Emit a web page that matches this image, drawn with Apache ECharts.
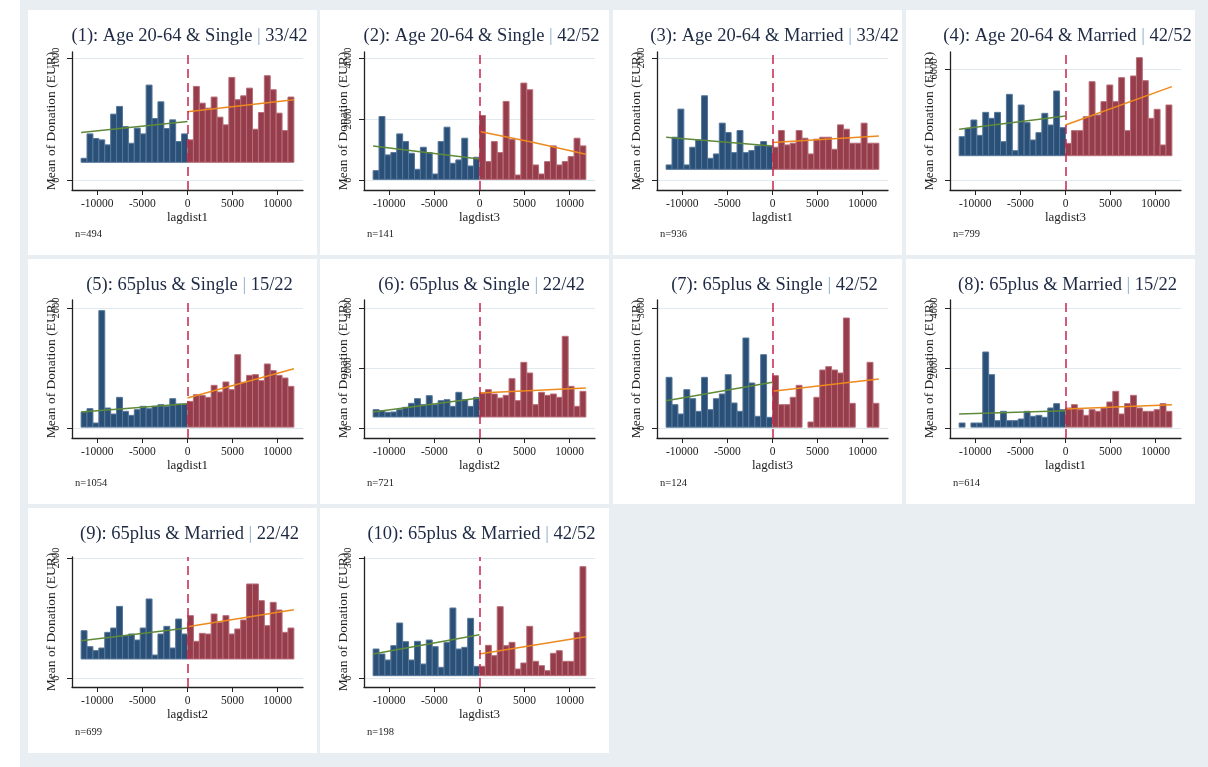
<!DOCTYPE html>
<html><head><meta charset="utf-8">
<script src="https://cdn.jsdelivr.net/npm/echarts@6/dist/echarts.min.js"></script>
<style>
html,body{margin:0;padding:0;background:#fff;}
#c{width:1208px;height:767px;}
</style></head><body><div id="c"></div>
<script>
// ---------- DATA ----------
const panelTitles = [
  ['(1): Age 20-64 & Single', '33/42'],
  ['(2): Age 20-64 & Single', '42/52'],
  ['(3): Age 20-64 & Married', '33/42'],
  ['(4): Age 20-64 & Married', '42/52'],
  ['(5): 65plus & Single', '15/22'],
  ['(6): 65plus & Single', '22/42'],
  ['(7): 65plus & Single', '42/52'],
  ['(8): 65plus & Married', '15/22'],
  ['(9): 65plus & Married', '22/42'],
  ['(10): 65plus & Married', '42/52']
];
const xNames = ['lagdist1','lagdist3','lagdist1','lagdist3','lagdist1','lagdist2','lagdist3','lagdist1','lagdist2','lagdist3'];
const nLabels = ['n=494','n=141','n=936','n=799','n=1054','n=721','n=124','n=614','n=699','n=198'];
const yTicks = [[0,1000],[0,2000,4000],[0,2000],[0,6000],[0,2000],[0,2000,4000],[0,3000],[0,2000,4000],[0,2000],[0,3000]];
const xTicks = [-10000,-5000,0,5000,10000];
const binWidth = 655;
const barBase = [145, 20, 175, 1314, 15, 367, 20, 30, 317, 58];

const left1  = [178,378,340,329,288,540,603,438,301,425,378,778,504,641,422,493,315,378];
const right1 = [329,767,630,589,680,515,452,841,658,690,753,416,553,855,740,548,405,680];
const left2  = [307,2082,822,899,1512,1260,877,351,1074,899,197,1260,1732,548,658,1370,460,745];
const right2 = [2115,603,1260,899,2576,1337,164,3178,2959,493,197,603,1118,493,603,767,1370,1118];
const left3  = [247,701,1162,247,537,658,1381,356,427,932,778,449,811,449,482,559,630,559];
const right3 = [537,811,575,603,811,685,427,669,701,701,504,904,833,603,603,932,603,603];
const left4  = [2342,2793,3243,2414,3657,3333,3657,2072,4630,1586,4054,3099,2162,2559,3604,2973,4810,2829];
const right4 = [1982,2667,2667,3423,5315,3514,4234,5135,4234,5532,2667,5622,6613,5369,3333,3820,1892,4054];
const left5  = [267,322,83,1956,333,233,511,278,211,306,361,322,361,389,361,489,400,400];
const right5 = [444,556,544,511,711,600,767,639,1222,761,878,889,789,1067,956,878,833,694];
const left6  = [611,578,522,533,611,689,822,978,778,1078,778,911,944,722,1189,944,722,1022];
const right6 = [1167,1278,1133,1000,1089,1644,911,2189,1833,778,1189,1089,1133,1022,3056,1389,722,1222];
const left7  = [1267,583,350,958,733,417,1267,458,733,850,1333,625,417,2250,1125,292,1833,267];
const right7 = [1308,583,583,767,1067,null,150,767,1450,1533,1450,1375,2750,617,null,null,1642,617];
const left8  = [167,null,167,167,2533,1778,244,556,244,244,300,556,389,422,356,667,811,611];
const right8 = [667,778,611,422,611,556,667,867,1222,467,811,1089,667,556,556,611,811,556];
const left9  = [789,522,456,500,761,833,1194,706,733,633,833,1317,383,733,861,500,983,733];
const right9 = [1039,611,744,733,1067,928,1039,733,817,967,1567,1567,1289,872,1261,1133,761,833];
const left10 = [725,600,450,808,1375,908,450,917,350,950,783,267,892,1750,725,767,1492,292];
const right10= [292,817,558,1783,808,892,225,375,1292,417,308,183,617,683,417,417,1142,2783];

const fitL1 = [[-11790,389],[0,480]],  fitR1 = [[0,559],[11790,658]];
const fitL2 = [[-11790,1118],[-5900,899],[0,690]], fitR2 = [[0,1589],[5900,1238],[11790,844]];
const fitL3 = [[-11790,701],[0,559]],  fitR3 = [[0,614],[11790,723]];
const fitL4 = [[-11790,2739],[0,3459]], fitR4 = [[0,2973],[11790,5045]];
const fitL5 = [[-11790,267],[0,406]],  fitR5 = [[0,500],[11790,989]];
const fitL6 = [[-11790,533],[0,1000]], fitR6 = [[0,1167],[11790,1333]];
const fitL7 = [[-11790,683],[0,1142]], fitR7 = [[0,917],[11790,1225]];
const fitL8 = [[-11790,467],[0,578]],  fitR8 = [[0,633],[11790,778]];
const fitL9 = [[-11790,622],[0,833]],  fitR9 = [[0,856],[11790,1139]];
const fitL10= [[-11790,600],[0,1083]], fitR10= [[0,600],[11790,1033]];

const lefts  = [left1,left2,left3,left4,left5,left6,left7,left8,left9,left10];
const rights = [right1,right2,right3,right4,right5,right6,right7,right8,right9,right10];
const fitsL  = [fitL1,fitL2,fitL3,fitL4,fitL5,fitL6,fitL7,fitL8,fitL9,fitL10];
const fitsR  = [fitR1,fitR2,fitR3,fitR4,fitR5,fitR6,fitR7,fitR8,fitR9,fitR10];

// ---------- LAYOUT / STYLE ----------
const colLeft = [28,320,613,906], rowTop = [10,259,508];
const PW = 289, PH = 245;
const rows = [
  {top:52, bottom:190, zero:180, tick:58},
  {top:300, bottom:438, zero:428, tick:308},
  {top:557, bottom:687, zero:678, tick:558}
];
const SERIF = '"Liberation Serif","DejaVu Serif",serif';
const BLUE = '#2b5077', BLUE_E = '#56779a';
const RED = '#953d4a', RED_E = '#b86d79';
const GREEN = '#5f8a3a', ORANGE = '#ec8a1e', DASH = '#c8254d';
const plain = v => String(v);

const chart = echarts.init(document.getElementById('c'));
const grids=[], xAxes=[], yAxes=[], series=[], titles=[], graphics=[];
graphics.push({type:'rect', z:-100, shape:{x:20,y:0,width:1188,height:767}, style:{fill:'#e8eef1'}});

function binData(vals, side){
  const out=[];
  vals.forEach((v,i)=>{
    if(v==null) return;
    const x0 = side<0 ? -(vals.length - i)*binWidth : i*binWidth;
    out.push([x0, x0+binWidth, v]);
  });
  return out;
}

for(let i=0;i<10;i++){
  const r=Math.floor(i/4), c=i%4;
  const px=colLeft[c], py=rowTop[r];
  graphics.push({type:'rect', z:-90, shape:{x:px,y:py,width:PW,height:PH}, style:{fill:'#ffffff'}});
  const g=rows[r];
  const tickY = (i===3)?69:g.tick;
  const T = yTicks[i][yTicks[i].length-1];
  const ppu = (g.zero - tickY)/T;
  const yMin = -(g.bottom-g.zero)/ppu, yMax = (g.zero-g.top)/ppu;
  const gl = px+44, gw = 231;
  grids.push({left:gl, top:g.top, width:gw, height:g.bottom-g.top});
  xAxes.push({
    type:'value', gridIndex:i, min:-12800, max:12800,
    axisLine:{show:true, onZero:false, lineStyle:{color:'#222', width:1.3}},
    axisTick:{show:true, length:5, customValues:xTicks, lineStyle:{color:'#222'}},
    axisLabel:{customValues:xTicks, formatter:plain, fontFamily:SERIF, fontSize:11.5, color:'#222', margin:8},
    splitLine:{show:false},
    name:xNames[i], nameLocation:'middle', nameGap:21, nameMoveOverlap:false,
    nameTextStyle:{fontFamily:SERIF, fontSize:13, color:'#222'}
  });
  yAxes.push({
    type:'value', gridIndex:i, min:yMin, max:yMax,
    axisLine:{show:true, onZero:false, lineStyle:{color:'#222', width:1.3}},
    axisTick:{show:true, length:5, customValues:yTicks[i], lineStyle:{color:'#222'}},
    axisLabel:{customValues:yTicks[i], formatter:plain, rotate:90, fontFamily:SERIF, fontSize:10.5, color:'#222', margin:10},
    splitLine:{show:true, lineStyle:{color:'#e0e9ee', width:1}},
    name:'Mean of Donation (EUR)', nameLocation:'middle', nameRotate:90, nameGap:14, nameMoveOverlap:false,
    nameTextStyle:{fontFamily:SERIF, fontSize:13.5, color:'#222'}
  });
  const base = barBase[i];
  const mk = (fill, edge)=> (params, api)=>{
    const p0 = api.coord([api.value(0), base]);
    const p1 = api.coord([api.value(1), api.value(2)]);
    return {type:'rect', shape:{x:p0[0], y:p1[1], width:p1[0]-p0[0], height:p0[1]-p1[1]},
      style:{fill:fill, stroke:edge, lineWidth:1}};
  };
  series.push({type:'custom', xAxisIndex:i, yAxisIndex:i, z:2, renderItem:mk(BLUE,BLUE_E),
    encode:{x:[0,1], y:2}, data:binData(lefts[i],-1)});
  series.push({type:'custom', xAxisIndex:i, yAxisIndex:i, z:2, renderItem:mk(RED,RED_E),
    encode:{x:[0,1], y:2}, data:binData(rights[i],1)});
  series.push({type:'line', xAxisIndex:i, yAxisIndex:i, z:4, showSymbol:false, data:fitsL[i],
    lineStyle:{color:GREEN, width:1.5}});
  series.push({type:'line', xAxisIndex:i, yAxisIndex:i, z:4, showSymbol:false, data:fitsR[i],
    lineStyle:{color:ORANGE, width:1.5},
    markLine:{silent:true, symbol:'none', label:{show:false},
      lineStyle:{color:DASH, width:1.5, type:[9,5]}, data:[{xAxis:0}]}});
  titles.push({
    text:'{a|'+panelTitles[i][0]+' }{b||}{a| '+panelTitles[i][1]+'}',
    left: gl + gw/2 - 3, top: py+12, textAlign:'center',
    textStyle:{fontWeight:'normal', rich:{
      a:{fontFamily:SERIF, fontSize:18.5, fontWeight:'normal', color:'#1e2a44'},
      b:{fontFamily:SERIF, fontSize:18.5, fontWeight:'normal', color:'#8fb0cc'}}}
  });
  titles.push({
    text:nLabels[i], left:px+42, top:py+214,
    textStyle:{fontFamily:SERIF, fontSize:10.5, fontWeight:'normal', color:'#222'}
  });
}

chart.setOption({
  animation:false,
  title:titles, grid:grids, xAxis:xAxes, yAxis:yAxes, series:series, graphic:graphics
});
</script></body></html>
